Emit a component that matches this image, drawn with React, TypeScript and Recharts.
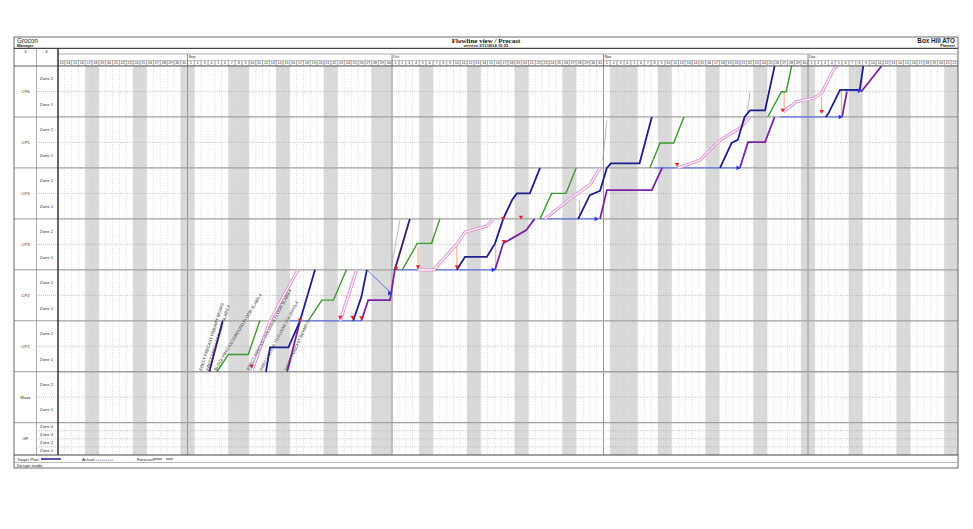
import React from 'react';
import { ComposedChart, Line, XAxis, YAxis, ReferenceArea, ReferenceLine, Scatter } from 'recharts';

// ---------- calendar (13 Aug 2013 .. 22 Dec 2013) ----------
const monthNames = ['Aug', 'Sep', 'Oct', 'Nov', 'Dec'];
const monthFirstDay = [13, 1, 1, 1, 1];
const monthLastDay = [31, 30, 31, 30, 22];
// shaded (non-working) day columns, counted from 13 Aug
const shadedDays = [4, 5, 11, 12, 18, 19, 25, 26, 27, 32, 33, 39, 40, 46, 47, 48, 53, 54, 60, 61, 67, 68, 74, 75,
  81, 82, 83, 84, 88, 89, 95, 96, 102, 103, 109, 110, 116, 117, 123, 124, 130, 131];

// ---------- locations (top to bottom), heights in zone units ----------
const floorNames = ['CP6', 'CP5', 'CP4', 'CP3', 'CP2', 'CP1', 'Mezz', 'GF'];
const floorZones = [
  ['Zone 2', 'Zone 1'], ['Zone 2', 'Zone 1'], ['Zone 2', 'Zone 1'], ['Zone 2', 'Zone 1'],
  ['Zone 2', 'Zone 1'], ['Zone 2', 'Zone 1'], ['Zone 2', 'Zone 1'], ['Zone 4', 'Zone 3', 'Zone 2', 'Zone 1'],
];
const zoneHeight = [1, 1, 1, 1, 1, 1, 1, 0.3167];
const TOP_LEVEL = 12; // top of CP6 (CP1 bottom = 0)

// ---------- flowlines: [day, level] ----------
const greenSegs = [
  [[23.3, 0], [25.0, 0.68], [27.9, 0.68], [29.6, 2]],
  [[36.7, 2], [38.7, 2.81], [40.4, 2.81], [42.3, 4]],
  [[50.5, 4], [52.7, 5.04], [54.8, 5.04], [56.0, 6]],
  [[70.7, 6], [72.4, 7.0], [74.5, 7.0], [76.0, 8]],
  [[86.8, 8], [88.3, 8.98], [90.3, 8.98], [91.8, 10]],
  [[104.1, 10], [106.1, 10.99], [106.8, 10.99], [107.6, 12]],
];
const navySegs = [
  [[30.5, 0], [31.1, 0.96], [33.8, 0.96], [35.5, 2], [37.7, 4]],
  [[43.3, 2], [44.5, 2.94], [45.3, 4]],
  [[58.5, 4], [59.7, 4.51], [62.9, 4.51], [64.1, 5.04], [65.3, 6], [66.6, 6.74], [67.3, 7.0], [69.2, 7.0], [70.7, 8]],
  [[76.3, 6], [78.0, 6.93], [79.5, 7.1], [80.5, 8], [81.1, 8.18], [85.3, 8.18], [87.1, 10]],
  [[97.1, 8], [98.8, 8.98], [99.7, 9.1], [100.7, 10], [101.5, 10.26], [103.7, 10.26], [105.1, 12]],
  [[112.6, 10], [113.0, 10.14], [114.7, 11.06], [117.6, 11.06], [118.1, 12]],
];
const beamSegs = [
  [[22.2, 0], [24.15, 2]],
  [[49.4, 4], [51.6, 6]],
];
const purpleSegs = [
  [[33.6, 0], [35.5, 2]],
  [[44.5, 2], [45.5, 2.81], [48.7, 2.81], [49.4, 4]],
  [[64.1, 4], [65.3, 5.04], [68.7, 5.56], [69.9, 6]],
  [[79.5, 6], [80.5, 7.13], [87.1, 7.13], [88.6, 8]],
  [[100.0, 8], [101.2, 9.01], [103.7, 9.01], [105.1, 10]],
  [[115.0, 10], [115.7, 10.99]],
  [[117.8, 10.99], [120.8, 12]],
];
const forecastSegs = [
  [[28.4, 0], [31.1, 2], [35.2, 4]],
  [[41.4, 2], [43.8, 4]],
  [[52.8, 4], [55.1, 4], [58.5, 5.01], [59.7, 5.48], [62.9, 5.72], [63.9, 6]],
  [[71.4, 6], [75.8, 6.93], [78.0, 7.33], [79.5, 8]],
  [[90.9, 8], [94.1, 8.3], [97.1, 9.09], [100.0, 9.56], [101.5, 10]],
  [[106.4, 10.2], [108.3, 10.6], [110.8, 10.73], [112.0, 10.93], [113.7, 11.84], [114.2, 12]],
];
const linkSegs = [
  [[34.0, 2], [44.5, 2]],
  [[45.3, 4], [48.9, 3.08]],
  [[49.1, 4], [64.1, 4]],
  [[70.7, 6], [79.2, 6]],
  [[87.5, 8], [100.0, 8]],
  [[105.9, 10], [115.0, 10]],
  [[115.4, 11.03], [117.8, 11.03]],
];
const connectorSegs = [
  [[52.8, 4.91], [52.8, 4]],
  [[58.5, 5.04], [58.5, 4]],
  [[64.2, 5.04], [64.2, 4]],
  [[76.5, 6.75], [76.5, 6.15]],
  [[106.5, 10.99], [106.5, 10.2]],
  [[112.0, 10.79], [112.0, 10.14]],
  [[114.9, 11.06], [114.9, 10.14]],
];
const greySegs = [
  [[48.9, 4.12], [50.15, 5.95]],
  [[79.9, 8.3], [80.5, 9.87]],
  [[101.1, 10.15], [101.5, 10.99]],
];
const redMarks = [[28.4, 0.15], [35.5, 1.96], [41.4, 2.07], [43.2, 2.07], [44.5, 2.05], [49.6, 4], [52.8, 4.05],
  [58.5, 4.05], [65.4, 5.05], [65.3, 5.95], [67.9, 6], [90.8, 8.07], [106.3, 10.2], [112.0, 10.15]];
const blueMarks = [[48.9, 3.08], [64.1, 4], [79.2, 6], [100.0, 8], [115.0, 10], [117.8, 11.03]];
const taskLabels = [
  { d: 21.1, f: 0.03, a: -72, t: 'ERECT PRECAST PRIMARY BEAMS' },
  { d: 22.1, f: 0.03, a: -72, t: 'ERECT PRECAST FLOOR SLABS-3' },
  { d: 23.2, f: 0.03, a: -59, t: 'BLOCK PRECAST/GROUND FLOOR SLABS-4' },
  { d: 28.0, f: 0.05, a: -62, t: 'ERECT PRECAST COLUMNS FLOOR SLABS-4' },
  { d: 29.9, f: 0.03, a: -62, t: 'ERECT FLOOR TO FLOOR COLUMNS-4' },
  { d: 33.6, f: 0.03, a: -66, t: 'ERECT PRECAST BEAMS-5' },
];

// ---------- derived helpers ----------
const dayNumbers: number[] = [];
const monthStartIdx: { idx: number; name: string }[] = [];
monthNames.forEach((m, mi) => {
  if (mi > 0) monthStartIdx.push({ idx: dayNumbers.length, name: m });
  for (let d = monthFirstDay[mi]; d <= monthLastDay[mi]; d++) dayNumbers.push(d);
});
const DAYS = dayNumbers.length;
const toPts = (s: number[][]) => s.map(([d, f]) => ({ d, f }));

const FONT = '"Liberation Sans", Arial, sans-serif';
const W = 973, H = 529;
const PL = 58, PR = 958, PT = 66, PB = 455;
const DAY_W = (PR - PL) / DAYS;

// y ticks
const yKey = (v: number) => v.toFixed(3);
const floorCenter: Record<string, string> = {};
const zoneCenter: Record<string, string> = {};
const floorBound = new Set<string>();
const zoneBound = new Set<string>();
const yTicks: number[] = [];
{
  let top = TOP_LEVEL;
  floorNames.forEach((fn, i) => {
    const zh = zoneHeight[i];
    const n = floorZones[i].length;
    const bottom = top - zh * n;
    if (i > 0) floorBound.add(yKey(top));
    floorCenter[yKey((top + bottom) / 2)] = fn;
    floorZones[i].forEach((z, j) => {
      zoneCenter[yKey(top - zh * (j + 0.5))] = z;
      if (j > 0) zoneBound.add(yKey(top - zh * j));
    });
    top = bottom;
  });
  const all = new Set<string>([...Object.keys(floorCenter), ...Object.keys(zoneCenter), ...floorBound, ...zoneBound]);
  all.forEach((k) => yTicks.push(parseFloat(k)));
  yTicks.sort((a, b) => a - b);
}
const Y_MIN = Math.min(...yTicks.filter((v) => floorBound.has(yKey(v)))) - 4 * zoneHeight[7];
const hLinesSolid = Array.from(floorBound).map(parseFloat);
const hLinesDot = Array.from(zoneBound).map(parseFloat);

function YTick(props: any) {
  const { y, payload } = props;
  const k = yKey(payload.value);
  return (
    <g>
      {floorBound.has(k) && <line x1={14} x2={PL} y1={y} y2={y} stroke="#9a9a9a" strokeWidth={1} />}
      {zoneBound.has(k) && <line x1={37} x2={PL} y1={y} y2={y} stroke="#aaa" strokeWidth={0.7} strokeDasharray="1 1" />}
      {floorCenter[k] && (
        <text x={25.5} y={y} fontSize={4.3} fill="#333" textAnchor="middle" dominantBaseline="central" fontFamily={FONT}>{floorCenter[k]}</text>
      )}
      {zoneCenter[k] && (
        <text x={46.5} y={y} fontSize={4.3} fill="#333" textAnchor="middle" dominantBaseline="central" fontFamily={FONT}>{zoneCenter[k]}</text>
      )}
    </g>
  );
}

function DayTick(props: any) {
  const { x, payload } = props;
  const i = Math.round(payload.value - 0.5);
  const x0 = x - DAY_W / 2;
  const ms = monthStartIdx.find((m) => m.idx === i);
  return (
    <g>
      <rect x={x0 + 0.3} y={60.3} width={DAY_W - 0.6} height={5.2} fill="#fff" stroke="#777" strokeWidth={0.4} />
      <text x={x} y={63} fontSize={3.6} fill="#222" textAnchor="middle" dominantBaseline="central" fontFamily={FONT}>{dayNumbers[i]}</text>
      {ms && (
        <g>
          <line x1={x0} x2={x0} y1={54} y2={66} stroke="#666" strokeWidth={0.7} />
          <text x={x0 + 1} y={57.3} fontSize={3.8} fill="#222" dominantBaseline="central" fontFamily={FONT}>{ms.name}</text>
        </g>
      )}
    </g>
  );
}

const RedArrow = (p: any) => (
  <polygon points={`${p.cx - 2.2},${p.cy - 3.2} ${p.cx + 2.2},${p.cy - 3.2} ${p.cx},${p.cy + 0.6}`} fill="#ee2222" />
);
const BlueArrow = (p: any) => (
  <polygon points={`${p.cx - 3.4},${p.cy - 2.3} ${p.cx + 0.6},${p.cy} ${p.cx - 3.4},${p.cy + 2.3}`} fill="#2233ee" />
);
const TaskLabel = (p: any) => {
  const pl = p.payload || {};
  return (
    <text x={p.cx} y={p.cy} fontSize={4.2} fill="#333" fontFamily={FONT} transform={`rotate(${pl.a}, ${p.cx}, ${p.cy})`}>{pl.t}</text>
  );
};

const days = Array.from({ length: DAYS }, (_, i) => i);

export default function App() {
  const segLines = (segs: number[][][], key: string, stroke: string, width: number, dash?: string) =>
    segs.map((s, i) => (
      <Line key={`${key}${i}`} xAxisId="x" yAxisId="y" data={toPts(s)} dataKey="f" type="linear" stroke={stroke}
        strokeWidth={width} strokeDasharray={dash} dot={false} activeDot={false} isAnimationActive={false} legendType="none" />
    ));
  return (
    <div style={{ position: 'absolute', left: 0, top: 0, width: W, height: H, background: '#fff' }}>
      <ComposedChart width={W} height={H} margin={{ top: 54, right: W - PR, bottom: H - PB, left: 14 }}>
        <XAxis xAxisId="x" type="number" dataKey="d" domain={[0, DAYS]} orientation="top" height={12}
          ticks={days.map((i) => i + 0.5)} interval={0} tick={<DayTick />} tickLine={false} axisLine={false} allowDataOverflow />
        <YAxis yAxisId="y" type="number" dataKey="f" domain={[Y_MIN, TOP_LEVEL]} width={44} ticks={yTicks} interval={0}
          tick={<YTick />} tickLine={false} axisLine={false} allowDataOverflow />
        {shadedDays.map((i) => (
          <ReferenceArea key={`w${i}`} xAxisId="x" yAxisId="y" x1={i} x2={i + 1} fill="#d9d9d9" fillOpacity={1} stroke="none" />
        ))}
        {days.slice(1).map((i) => (
          monthStartIdx.some((m) => m.idx === i)
            ? <ReferenceLine key={`v${i}`} xAxisId="x" yAxisId="y" x={i} stroke="#8a8a8a" strokeWidth={0.9} />
            : <ReferenceLine key={`v${i}`} xAxisId="x" yAxisId="y" x={i} stroke="#c2c2c2" strokeWidth={0.6} strokeDasharray="1 1.6" />
        ))}
        {hLinesDot.map((v) => (
          <ReferenceLine key={`hd${v}`} xAxisId="x" yAxisId="y" y={v} stroke="#a8a8a8" strokeWidth={0.7} strokeDasharray="1 1.3" />
        ))}
        {hLinesSolid.map((v) => (
          <ReferenceLine key={`hs${v}`} xAxisId="x" yAxisId="y" y={v} stroke="#a0a0a0" strokeWidth={1.3} />
        ))}
        {segLines(linkSegs, 'lk', '#3d5cff', 0.8)}
        {segLines(connectorSegs, 'cn', '#ff8866', 0.8)}
        {segLines(greySegs, 'gy', '#9a9ab4', 0.7)}
        {segLines(forecastSegs, 'fc', '#e39ad8', 3.2)}
        {segLines(forecastSegs, 'fw', '#ffffff', 1.1)}
        {segLines(greenSegs, 'gr', '#3b9a2c', 1.4)}
        {segLines(purpleSegs, 'pu', '#7a22a6', 1.8)}
        {segLines(navySegs, 'nv', '#1e1e8e', 1.8)}
        {segLines(beamSegs, 'bm', '#3a1670', 1.8)}
        <Scatter xAxisId="x" yAxisId="y" data={toPts(redMarks)} shape={<RedArrow />} isAnimationActive={false} legendType="none" />
        <Scatter xAxisId="x" yAxisId="y" data={toPts(blueMarks)} shape={<BlueArrow />} isAnimationActive={false} legendType="none" />
        <Scatter xAxisId="x" yAxisId="y" data={taskLabels} shape={<TaskLabel />} isAnimationActive={false} legendType="none" />
      </ComposedChart>
      <svg width={W} height={H} style={{ position: 'absolute', left: 0, top: 0, pointerEvents: 'none' }}>
        <g fontFamily={FONT}>
          <line x1={14} x2={PR} y1={37} y2={37} stroke="#444" strokeWidth={0.8} />
          <line x1={14} x2={PR} y1={48.3} y2={48.3} stroke="#444" strokeWidth={1.2} />
          <line x1={PL} x2={PR} y1={54} y2={54} stroke="#777" strokeWidth={0.6} />
          <line x1={14} x2={PR} y1={PT} y2={PT} stroke="#555" strokeWidth={0.9} />
          <line x1={14} x2={14} y1={37} y2={468} stroke="#444" strokeWidth={0.8} />
          <line x1={PR} x2={PR} y1={37} y2={468} stroke="#444" strokeWidth={0.8} />
          <line x1={36.5} x2={36.5} y1={48.3} y2={PB} stroke="#777" strokeWidth={0.6} />
          <line x1={PL} x2={PL} y1={48.3} y2={PB} stroke="#333" strokeWidth={1.5} />
          <line x1={14} x2={PR} y1={PB} y2={PB} stroke="#444" strokeWidth={1} />
          <line x1={14} x2={PR} y1={462.5} y2={462.5} stroke="#888" strokeWidth={0.6} />
          <line x1={14} x2={PR} y1={468} y2={468} stroke="#444" strokeWidth={0.8} />
          <text x={17} y={43} fontSize={6.3} fill="#222">Grocon</text>
          <text x={17} y={47} fontSize={4} fontWeight="bold" fill="#222">Manager</text>
          <text x={486} y={43} fontSize={7} fontWeight="bold" fill="#111" textAnchor="middle" fontFamily='"Liberation Serif", serif'>Flowline view / Precast</text>
          <text x={486} y={47.3} fontSize={4} fontWeight="bold" fill="#222" textAnchor="middle">version 2/11/2014 15:25</text>
          <text x={955} y={43} fontSize={6.3} fontWeight="bold" fill="#222" textAnchor="end">Box Hill ATO</text>
          <text x={955} y={47.3} fontSize={4} fontWeight="bold" fill="#222" textAnchor="end">Planner</text>
          <text x={25.5} y={51.3} fontSize={4.2} fill="#222" textAnchor="middle" dominantBaseline="central">3</text>
          <text x={46.5} y={51.3} fontSize={4.2} fill="#222" textAnchor="middle" dominantBaseline="central">4</text>
          <text x={17} y={459} fontSize={4.3} fill="#222" dominantBaseline="central">Target Plan:</text>
          <line x1={41} x2={61} y1={459} y2={459} stroke="#1e1e8e" strokeWidth={1.5} />
          <text x={82} y={459} fontSize={4.3} fill="#222" dominantBaseline="central">Actual:</text>
          <text x={95} y={459} fontSize={4.3} fill="#555" dominantBaseline="central" letterSpacing={-0.5}>+++++++++</text>
          <text x={137} y={459} fontSize={4.3} fill="#222" dominantBaseline="central">Forecast:</text>
          <line x1={153} x2={162} y1={459} y2={459} stroke="#777" strokeWidth={1.3} />
          <line x1={166} x2={173} y1={459} y2={459} stroke="#777" strokeWidth={1.3} />
          <text x={17} y={465.3} fontSize={4.3} fill="#222" dominantBaseline="central">Design mode</text>
        </g>
      </svg>
    </div>
  );
}
